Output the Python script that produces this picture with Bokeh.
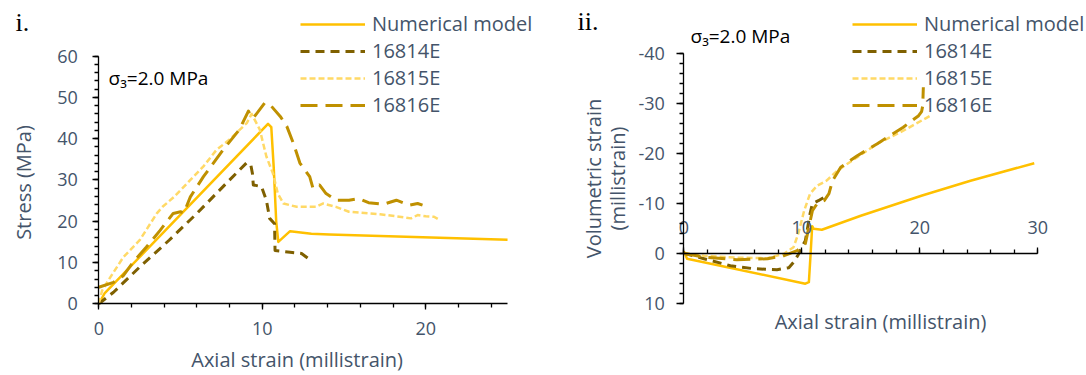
import math
from bokeh.plotting import figure
from bokeh.models import (Range1d, LinearAxis, SingleIntervalTicker, Label,
                          Legend, LegendItem)
from bokeh.layouts import row
from bokeh.embed import file_html
from bokeh.resources import INLINE

# ---------------- data ----------------
series_names = ["Numerical model", "16814E", "16815E", "16816E"]

# (i) stress vs axial strain
stress_num_x = [0, 0.35, 10.35, 10.55, 10.7, 10.85, 10.98, 11.7, 13.0, 14.1, 25.0]
stress_num_y = [0, 2.5, 43.6, 42.8, 33.0, 20.0, 15.0, 17.6, 17.0, 16.8, 15.5]

stress_14_x = [0, 0.9, 2.5, 4.3, 6.0, 7.6, 8.6, 9.05, 9.3, 9.4, 9.45, 9.95, 10.25,
               10.45, 10.75, 10.78, 11.7, 12.4, 12.8]
stress_14_y = [0, 2.8, 8.9, 15.4, 21.9, 28.4, 32.4, 34.2, 33.6, 31.5, 28.8, 28.4, 25.1,
               20.7, 19.4, 12.9, 12.5, 12.2, 11.0]

stress_15_x = [0, 0.2, 0.7, 1.5, 2.5, 3.55, 3.9, 4.6, 5.6, 6.4, 7.2, 8.0, 9.05, 9.35,
               9.85, 10.05, 10.25, 10.65, 10.95, 11.3, 12.1, 13.3, 13.7, 14.5, 15.3,
               17.2, 18.2, 19.1, 19.5, 20.0, 20.5, 20.8]
stress_15_y = [0, 3.2, 6.4, 11.3, 15.4, 21.9, 23.5, 25.9, 30.0, 33.3, 37.3, 39.8, 43.8, 46.0,
               42.2, 38.9, 35.7, 31.6, 26.7, 24.3, 23.5, 23.5, 24.3, 23.5, 22.3,
               21.7, 21.2, 20.7, 21.5, 21.2, 21.1, 20.4]

stress_16_x = [0, 0.9, 1.5, 2.1, 2.9, 3.75, 4.55, 5.0, 5.2, 5.6, 6.4, 7.6, 8.6, 9.15, 9.3,
               9.45, 10.15, 10.55, 11.1, 11.5, 11.9, 12.3, 12.9, 13.1, 13.5, 13.9, 14.2,
               14.5, 15.3, 15.9, 16.5, 17.4, 18.2, 19.0, 19.5, 19.8]
stress_16_y = [4.0, 5.2, 6.8, 10.1, 13.7, 17.8, 21.9, 22.3, 22.0, 25.9, 30.8, 37.3, 42.2, 46.7, 45.6,
               45.0, 48.7, 47.9, 45.4, 43.0, 38.9, 34.1, 30.8, 28.0, 28.8, 26.7, 25.9,
               25.1, 25.1, 25.5, 24.5, 24.1, 25.1, 23.9, 24.3, 23.9]

# (ii) volumetric strain vs axial strain
vol_num_x = [0, 0.28, 10.3, 10.6, 10.75, 10.88, 11.0, 11.7, 15.0, 20.2, 24.3, 29.7]
vol_num_y = [-0.4, 1.1, 6.1, 5.8, 0.0, -5.4, -4.9, -4.7, -7.5, -11.55, -14.5, -18.0]

vol_14_x = [0, 1.7, 3.95, 5.9, 7.9, 8.9, 9.3, 9.7, 10.0, 10.3, 10.5, 10.7, 10.9, 11.4, 11.9, 12.1]
vol_14_y = [0, 1.1, 2.5, 3.1, 3.3, 2.9, 1.8, 0.3, -1.2, -2.5, -5.2, -7.9, -9.9, -10.5, -11.2, -10.5]

vol_15_x = [0, 1.7, 4.5, 7.1, 8.5, 9.3, 9.7, 10.2, 10.7, 11.3, 12.1, 13.0, 14.7, 16.4, 18.6, 20.9]
vol_15_y = [0, 0.5, 0.9, 1.0, 0.1, -1.2, -3.9, -8.5, -11.9, -13.5, -14.5, -16.5, -19.2, -21.9,
            -24.5, -27.5]

vol_16_x = [0, 1.7, 4.5, 7.1, 8.5, 9.6, 10.3, 10.6, 10.9, 11.3, 11.9, 12.3, 12.6, 13.3, 14.7,
            16.4, 18.6, 19.9, 20.15, 20.25, 20.3]
vol_16_y = [0, 0.8, 1.3, 1.1, 0.5, -0.5, -1.9, -5.2, -8.5, -9.9, -10.5, -11.9, -14.5, -17.2,
            -19.5, -21.9, -25.2, -27.5, -28.3, -29.5, -33.2]

vol_ticks = [-40, -30, -20, -10, 0, 10]
vol_tick_labels = ["-40", "-30", "-20", "-10", "0", "10"]

# ---------------- styling ----------------
FONT = "Open Sans"
TEXT = "#44546A"
COLORS = ["#FFC000", "#7F6000", "#FFD966", "#BF9000"]
DASHES = ["solid", "9 6", "6 3", "17 8"]
WIDTHS = [2.5, 3, 2.5, 3]


def style_axis(ax, tick_out=6, standoff=14):
    ax.axis_line_color = "black"
    ax.axis_line_width = 1.3
    ax.major_tick_line_color = "black"
    ax.minor_tick_line_color = "black"
    ax.major_tick_line_width = 1.3
    ax.minor_tick_line_width = 1.3
    ax.major_tick_out = tick_out
    ax.major_tick_in = 0
    ax.minor_tick_out = 4
    ax.minor_tick_in = 0
    ax.major_label_text_font = FONT
    ax.major_label_text_font_size = "18px"
    ax.major_label_text_color = TEXT
    ax.major_label_standoff = standoff


def base_fig(width, xr, yr):
    # the plot frame fills the whole canvas; axes sit at fixed data positions
    p = figure(width=width, height=375, x_range=xr, y_range=yr,
               output_backend="svg", toolbar_location=None,
               x_axis_location=None, y_axis_location=None, min_border=0)
    p.xgrid.visible = False
    p.ygrid.visible = False
    p.outline_line_color = None
    p.background_fill_color = "white"
    p.border_fill_color = "white"
    return p


def add_axis(p, side, loc, bounds, tick_out=6, standoff=14, overrides=None):
    ax = LinearAxis(fixed_location=loc, bounds=bounds,
                    ticker=SingleIntervalTicker(interval=10, num_minor_ticks=5))
    style_axis(ax, tick_out, standoff)
    if overrides:
        ax.major_label_overrides = overrides
    p.add_layout(ax, side)


def add_series(p, xs, ys):
    items = []
    for name, x, y, c, d, w in zip(series_names, xs, ys, COLORS, DASHES, WIDTHS):
        r = p.line(x, y, line_color=c, line_dash=d, line_width=w,
                   line_join="round", line_cap="butt")
        items.append(LegendItem(label=name, renderers=[r]))
    return items


def add_legend(p, items, loc):
    lg = Legend(items=items, location=loc, padding=0, margin=0,
                border_line_color=None, background_fill_alpha=0,
                label_text_font=FONT, label_text_font_size="20px",
                label_text_color=TEXT, glyph_width=65, glyph_height=20,
                label_height=20, spacing=0, label_standoff=7)
    p.add_layout(lg)


def text(p, x, y, s, size, color, font=FONT, angle=0.0, align="center"):
    p.add_layout(Label(x=x, y=y, text=s, text_font=font, text_font_size=size,
                       text_color=color, text_baseline="middle",
                       text_align=align, angle=angle))


# ---------------- (i) stress ----------------
p1 = base_fig(560, Range1d(-6.012, 28.239), Range1d(-17.373, 73.49))
add_axis(p1, "below", 0, (0, 25), standoff=12)
add_axis(p1, "left", 0, (0, 60), standoff=15)

items1 = add_series(p1, [stress_num_x, stress_14_x, stress_15_x, stress_16_x],
                    [stress_num_y, stress_14_y, stress_15_y, stress_16_y])
add_legend(p1, items1, (300, 257))

text(p1, 12.13, -13.5, "Axial strain (millistrain)", "20px", TEXT)
text(p1, -4.605, 29.39, "Stress (MPa)", "20px", TEXT, angle=math.pi / 2)
text(p1, 0.6, 54.6, "σ₃=2.0 MPa", "19px", "black", align="left")
text(p1, -5.1, 68.1, "i.", "26px", "black", font="Liberation Serif", align="left")

# ---------------- (ii) volumetric strain ----------------
p2 = base_fig(526, Range1d(-10.449, 34.127), Range1d(24.46, -50.54))
add_axis(p2, "above", 0, (0, 30), standoff=13)
add_axis(p2, "left", 0, (-40, 10), tick_out=7, standoff=12,
         overrides=dict(zip(vol_ticks, vol_tick_labels)))

items2 = add_series(p2, [vol_num_x, vol_14_x, vol_15_x, vol_16_x],
                    [vol_num_y, vol_14_y, vol_15_y, vol_16_y])
add_legend(p2, items2, (292, 257))

text(p2, 16.67, 13.66, "Axial strain (millistrain)", "20px", TEXT)
text(p2, -7.65, -14.94, "Volumetric strain", "20px", TEXT, angle=math.pi / 2)
text(p2, -5.62, -14.94, "(millistrain)", "20px", TEXT, angle=math.pi / 2)
text(p2, 0.57, -43.5, "σ₃=2.0 MPa", "19px", "black", align="left")
text(p2, -9.0, -46.3, "ii.", "26px", "black", font="Liberation Serif", align="left")

layout = row(p1, p2, spacing=0)
open("out.html", "w").write(file_html(layout, INLINE))
